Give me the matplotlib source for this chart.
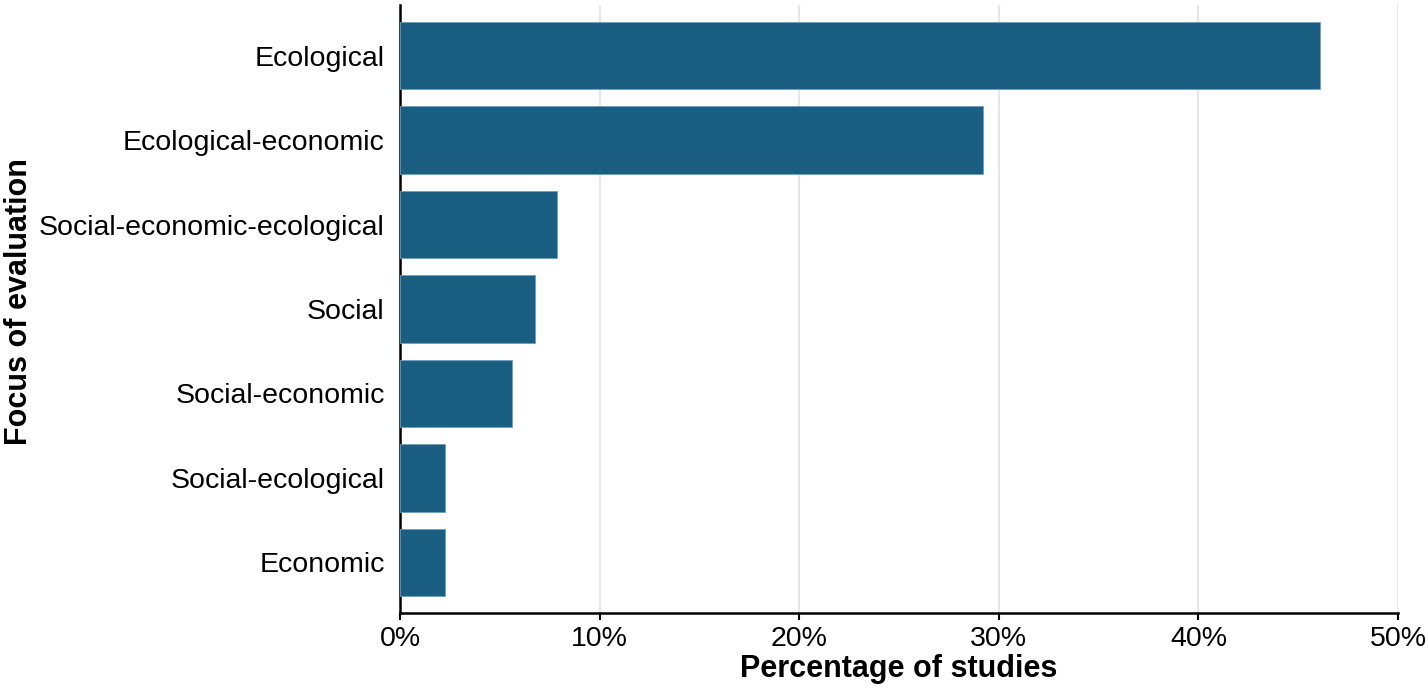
import matplotlib
matplotlib.use("Agg")
import matplotlib.pyplot as plt
from matplotlib.ticker import FuncFormatter

# data (percent of studies), top to bottom
categories = ["Ecological", "Ecological-economic", "Social-economic-ecological",
              "Social", "Social-economic", "Social-ecological", "Economic"]
percent = [46.07, 29.21, 7.87, 6.74, 5.62, 2.25, 2.25]
xticks = [0, 10, 20, 30, 40, 50]

BAR_COLOR = "#1a5f82"
GRID_COLOR = "#e6e6e6"

plt.rcParams["font.family"] = ["Liberation Sans", "DejaVu Sans"]

fig = plt.figure(figsize=(14.28, 6.91), dpi=100)
ax = fig.add_axes([400 / 1428, 1 - 613 / 691, 998 / 1428, 608 / 691])

ypos = list(range(len(categories)))[::-1]
ax.barh(ypos, percent, height=0.8, color=BAR_COLOR, edgecolor="#6f9fba",
        linewidth=0.6, zorder=3)

ax.set_xlim(0, 50)
ax.set_ylim(-0.6, len(categories) - 0.4)
ax.set_xticks(xticks)
ax.xaxis.set_major_formatter(FuncFormatter(lambda v, p: f"{v:.0f}%"))
ax.set_yticks(ypos)
ax.set_yticklabels(categories)

ax.grid(axis="x", color=GRID_COLOR, lw=1.6, zorder=0)
ax.grid(axis="y", visible=False)
for s in ("top", "right"):
    ax.spines[s].set_visible(False)
for s in ("left", "bottom"):
    ax.spines[s].set_linewidth(1.8)
    ax.spines[s].set_color("black")

ax.tick_params(axis="x", labelsize=20.5, length=5, width=1.5, pad=4, colors="black")
ax.tick_params(axis="y", labelsize=20.5, length=0, pad=11, colors="black")

# axis titles placed in figure pixels like the reference
fig.text(899 / 1428, 1 - 669 / 691, "Percentage of studies", fontsize=22,
         fontweight="bold", ha="center", va="center")
fig.text(19 / 1428, 1 - 302 / 691, "Focus of evaluation", fontsize=22,
         fontweight="bold", ha="center", va="center", rotation=90)

fig.savefig("out.png", dpi=100)
